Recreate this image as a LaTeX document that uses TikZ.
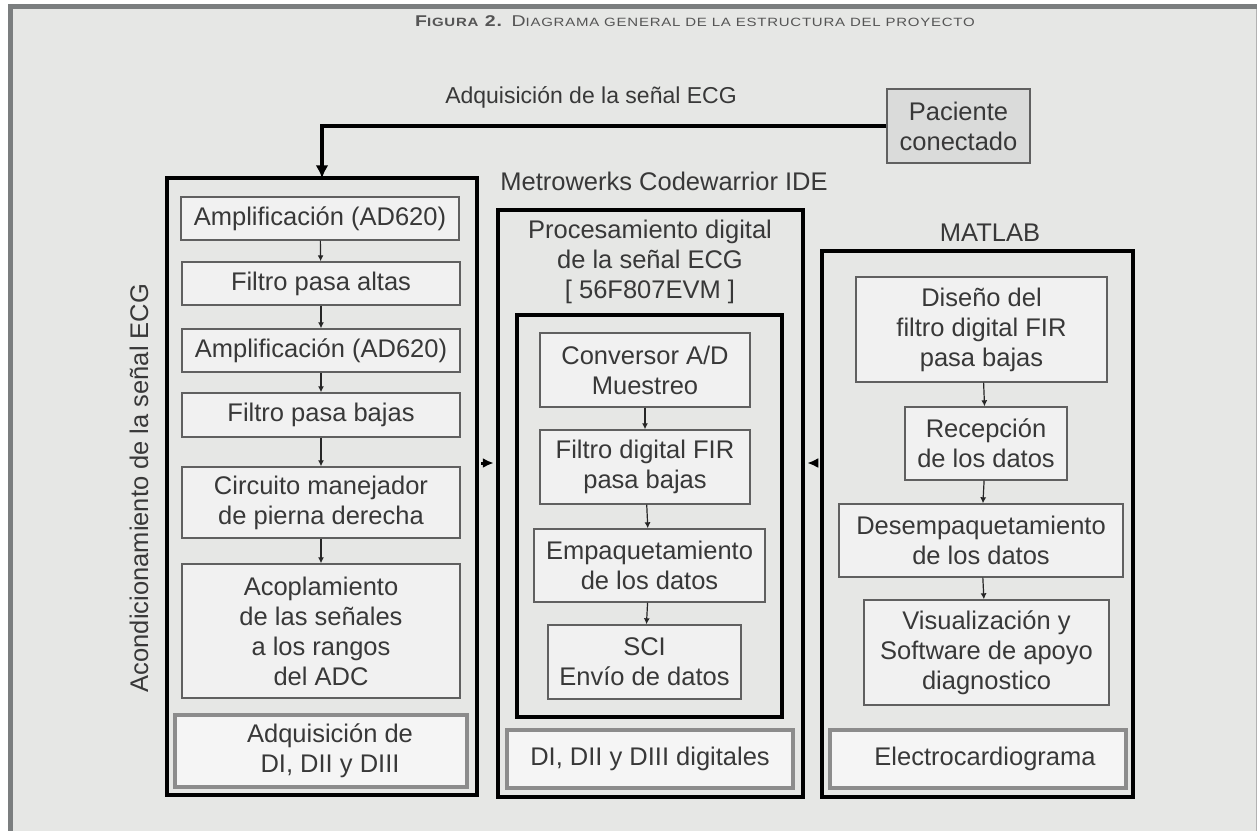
\documentclass[tikz,border=0pt]{standalone}
\usepackage{fontspec}
\setmainfont{Liberation Sans}
\usetikzlibrary{arrows.meta}
\definecolor{bgc}{HTML}{E6E7E5}
\definecolor{barc}{HTML}{7B7E7F}
\definecolor{boxfill}{HTML}{F1F1F1}
\definecolor{txt}{HTML}{383838}
\definecolor{edge}{HTML}{606060}
\definecolor{outedge}{HTML}{8C8C8C}
\definecolor{titc}{HTML}{555555}
\newcommand{\bx}[7]{\node[#6, minimum width={(#4-#2)*1pt}, minimum height={(#5-#3)*1pt}] (#1) at ({(#2+#4)/2},{(#3+#5)/2}) {#7};}
\newcommand{\sct}[1]{{\fontsize{15}{15}\selectfont #1}}
\begin{document}
\begin{tikzpicture}[x=1pt,y=-1pt,
  txtf/.style={text=txt, font=\fontsize{25.5}{30}\selectfont, align=center},
  inbox/.style={txtf, draw=edge, line width=1.4pt, fill=boxfill, inner sep=0pt},
  bigbox/.style={draw=black, line width=4.5pt, fill=bgc, inner sep=0pt},
  outbox/.style={txtf, draw=outedge, line width=4pt, fill=white!96!black, inner sep=0pt},
  patbox/.style={txtf, draw=edge, line width=1.5pt, fill=bgc!95!black, inner sep=0pt},
  lbl/.style={txtf, inner sep=0pt},
  flow/.style={draw=black!85, line width=1.2pt, -{Latex[length=6pt,width=6pt]}},
  bigflow/.style={draw=black, line width=3pt, -{Latex[length=11pt,width=10pt]}},
  feed/.style={draw=black, line width=3.5pt, -{Latex[length=13pt,width=13pt]}}
]
\useasboundingbox (0,0) rectangle (1257,831);
% frame
\fill[white] (0,0) rectangle (1257,831);
\fill[bgc] (13,9) rectangle (1257,831);
\fill[barc] (8,4) rectangle (1257,9);
\fill[barc] (8,4) rectangle (13,831);
\draw[black!30, line width=1pt] (1256.5,9) -- (1256.5,831);

% title
\node[text=titc, inner sep=0pt] (title) at (695,21) {\scalebox{1}[0.8]{\fontsize{19.5}{19}\selectfont\addfontfeature{LetterSpace=5}\textbf{F\sct{IGURA} 2.} D\sct{IAGRAMA GENERAL DE LA ESTRUCTURA DEL PROYECTO}}};

% labels
\node[lbl, font=\fontsize{23}{28}\selectfont] (adq) at (591,97) {Adquisición de la señal ECG};
\node[lbl] (ide) at (664,181) {Metrowerks Codewarrior IDE};
\bx{pac}{887}{89}{1030}{163}{patbox}{Paciente\\conectado}

% big boxes
\bx{L}{167}{178}{477}{795}{bigbox}{}
\bx{M}{498}{210}{803}{797}{bigbox}{}
\bx{R}{822}{251}{1133}{797}{bigbox}{}
\bx{MI}{517}{315}{782}{717}{bigbox}{}

\node[lbl, rotate=90] (acl) at (139,488) {Acondicionamiento de la señal ECG};
\node[lbl] (proc) at (650,262) {Procesamiento digital\\de la señal ECG\\{}[ 56F807EVM ]};
\node[lbl] (mat) at (990,233) {MATLAB};

% left column
\bx{l1}{181}{197}{459}{240}{inbox}{Amplificación (AD620)}
\bx{l2}{182}{262}{460}{305}{inbox}{Filtro pasa altas}
\bx{l3}{182}{329}{460}{372}{inbox}{Amplificación (AD620)}
\bx{l4}{182}{393}{460}{437}{inbox}{Filtro pasa bajas}
\bx{l5}{182}{467}{460}{538}{inbox}{Circuito manejador\\de pierna derecha}
\bx{l6}{182}{564}{460}{698}{inbox}{Acoplamiento\\de las señales\\a los rangos\\del ADC}
\bx{l7}{175}{715}{467}{787}{outbox}{\hspace*{18pt}Adquisición de\\\hspace*{18pt}DI, DII y DIII}

% middle column
\bx{m1}{540}{333}{750}{407}{inbox}{Conversor A/D\\Muestreo}
\bx{m2}{540}{430}{750}{504}{inbox}{Filtro digital FIR\\pasa bajas}
\bx{m3}{534}{529}{765}{602}{inbox}{Empaquetamiento\\de los datos}
\bx{m4}{548}{625}{741}{699}{inbox}{SCI\\Envío de datos}
\bx{m5}{507}{730}{793}{788}{outbox}{DI, DII y DIII digitales}

% right column
\bx{r1}{856}{277}{1107}{382}{inbox}{Diseño del\\filtro digital FIR\\pasa bajas}
\bx{r2}{905}{407}{1067}{480}{inbox}{Recepción\\de los datos}
\bx{r3}{839}{504}{1123}{577}{inbox}{Desempaquetamiento\\de los datos}
\bx{r4}{864}{600}{1109}{705}{inbox}{Visualización y\\Software de apoyo\\diagnostico}
\bx{r5}{830}{730}{1126}{788}{outbox}{\hspace*{14pt}Electrocardiograma}

% flows
\draw[flow] (l1) -- (l2);
\draw[flow] (l2) -- (l3);
\draw[flow] (l3) -- (l4);
\draw[flow] (l4) -- (l5);
\draw[flow] (l5) -- (l6);
\draw[flow] (m1) -- (m2);
\draw[flow] (m2) -- (m3);
\draw[flow] (m3) -- (m4);
\draw[flow] (r1) -- (r2);
\draw[flow] (r2) -- (r3);
\draw[flow] (r3) -- (r4);

\coordinate (ay) at (0,463);
\coordinate (fx) at (322,0);
\draw[feed] (pac.west) -| ([yshift=-2.5pt]L.north -| fx);
\draw[bigflow] ([xshift=2pt]L.east |- ay) -- ([xshift=-2pt]M.west |- ay);
\draw[bigflow] ([xshift=-2pt]R.west |- ay) -- ([xshift=2pt]M.east |- ay);
\end{tikzpicture}
\end{document}
